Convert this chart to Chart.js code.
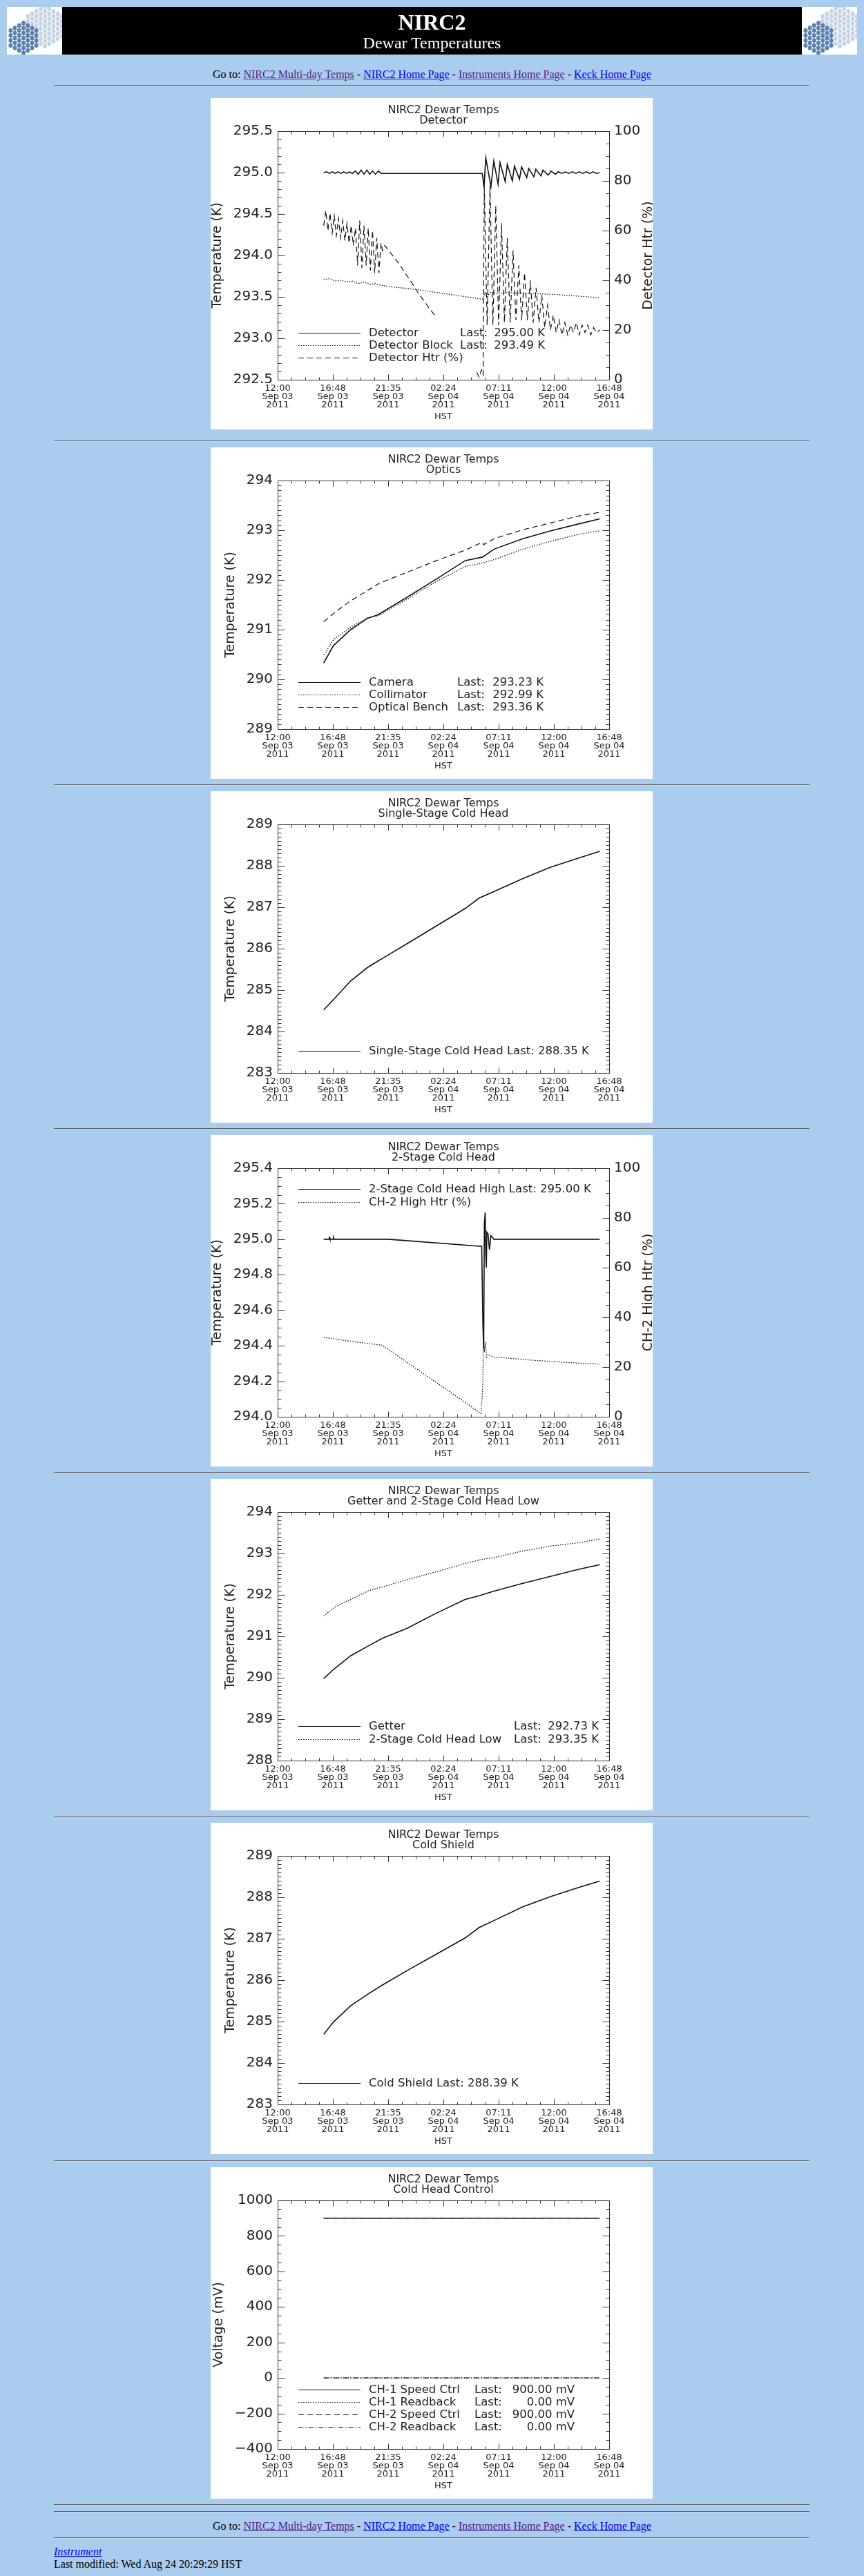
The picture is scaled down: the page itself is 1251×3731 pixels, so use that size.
<!DOCTYPE html>
<html>
<head>
<meta charset="utf-8">
<title>NIRC2 Dewar Temperatures</title>
<script src="https://cdn.jsdelivr.net/npm/chart.js@4.4.1/dist/chart.umd.min.js"></script>
<style>
body { margin: 0; background: #aaccee; font-family: "Liberation Serif", "Times New Roman", serif; font-size: 16px; color: #000; }
#page { position: relative; width: 1251px; height: 3731px; overflow: hidden; }
.hr { position: absolute; left: 78px; width: 1094px; height: 0; border-top: 1px solid #5e5e5e; border-bottom: 1px solid #c9d9eb; }
.line { position: absolute; left: 0; width: 1251px; text-align: center; line-height: 20px; white-space: nowrap; }
a { color: #0000ee; }
a.v { color: #551a8b; }
.plot { position: absolute; left: 305px; background: #fff; }
.logo { position: absolute; top: 10px; }
</style>
</head>
<body>
<div id="page">
  <canvas class="logo" id="logoL" width="80" height="69" style="left:10px"></canvas>
  <div style="position:absolute;left:90px;top:10px;width:1071px;height:69px;background:#000"></div>
  <div class="line" style="top:12px;line-height:40px;color:#fff;font-weight:bold;font-size:32px">NIRC2</div>
  <div class="line" style="top:47px;line-height:30px;color:#fff;font-size:24px">Dewar Temperatures</div>
  <canvas class="logo" id="logoR" width="80" height="69" style="left:1161px"></canvas>

  <div class="line" style="top:98px">Go to: <a class="v" href="#">NIRC2 Multi-day Temps</a> - <a href="#">NIRC2 Home Page</a> - <a class="v" href="#">Instruments Home Page</a> - <a href="#">Keck Home Page</a></div>
  <div class="hr" style="top:123px"></div>

  <canvas class="plot" id="c1" width="640" height="480" style="top:142px"></canvas>
  <div class="hr" style="top:638px"></div>
  <canvas class="plot" id="c2" width="640" height="480" style="top:648px"></canvas>
  <div class="hr" style="top:1136px"></div>
  <canvas class="plot" id="c3" width="640" height="480" style="top:1146px"></canvas>
  <div class="hr" style="top:1634px"></div>
  <canvas class="plot" id="c4" width="640" height="480" style="top:1644px"></canvas>
  <div class="hr" style="top:2132px"></div>
  <canvas class="plot" id="c5" width="640" height="480" style="top:2142px"></canvas>
  <div class="hr" style="top:2630px"></div>
  <canvas class="plot" id="c6" width="640" height="480" style="top:2640px"></canvas>
  <div class="hr" style="top:3129px"></div>
  <canvas class="plot" id="c7" width="640" height="480" style="top:3139px"></canvas>
  <div class="hr" style="top:3627px"></div>
  <div class="hr" style="top:3637px"></div>

  <div class="line" style="top:3649px">Go to: <a class="v" href="#">NIRC2 Multi-day Temps</a> - <a href="#">NIRC2 Home Page</a> - <a class="v" href="#">Instruments Home Page</a> - <a href="#">Keck Home Page</a></div>
  <div class="hr" style="top:3675px"></div>
  <div style="position:absolute;left:78px;top:3686px;line-height:20px"><a href="#"><i>Instrument</i></a></div>
  <div style="position:absolute;left:78px;top:3704px;line-height:20px;white-space:nowrap">Last modified: Wed Aug 24 20:29:29 HST</div>
</div>

<script>
'use strict';

// Time axis: hours after 12:00 HST Sep 03 2011
const xTickHours = [0, 4.8, 9.6, 14.4, 19.2, 24, 28.8];
const xTickLabels = [
  ['12:00', 'Sep 03', '2011'],
  ['16:48', 'Sep 03', '2011'],
  ['21:35', 'Sep 03', '2011'],
  ['02:24', 'Sep 04', '2011'],
  ['07:11', 'Sep 04', '2011'],
  ['12:00', 'Sep 04', '2011'],
  ['16:48', 'Sep 04', '2011']
];

// Detector
const detHours = [4.00, 4.25, 4.50, 4.75, 5.00, 5.25, 5.50, 5.75, 6.00, 6.25, 6.50, 6.75, 7.00, 7.25, 7.50, 7.75, 8.00, 8.25, 8.50, 8.75, 9.00, 9.10,
  17.78, 17.93, 18.08, 18.53, 18.78, 19.15, 19.32, 19.77, 19.95, 20.39, 20.57, 21.01, 21.19, 21.64, 21.81, 22.26, 22.43, 22.88, 23.05,
  23.50, 23.75, 24.12, 24.37, 24.70, 25.00, 25.30, 25.60, 25.90, 26.20, 26.50, 26.80, 27.10, 27.40, 27.70, 27.98];
const detTemp = [295.00, 295.01, 294.99, 295.01, 294.99, 295.01, 294.99, 295.01, 294.99, 295.01, 294.99, 295.02, 294.98, 295.03, 294.98, 295.03, 294.98, 295.02, 294.98, 295.02, 294.99, 294.99,
  294.99, 294.82, 295.18, 294.83, 295.14, 294.86, 295.12, 294.89, 295.10, 294.90, 295.08, 294.92, 295.07, 294.94, 295.05, 294.95, 295.04, 294.96, 295.03,
  294.97, 295.02, 294.98, 295.01, 294.99, 295.01, 294.99, 295.01, 294.99, 295.01, 294.99, 295.01, 294.99, 295.01, 294.99, 295.00];
const blockHours = [4.0, 4.5, 5.0, 5.5, 6.0, 6.5, 7.0, 7.5, 8.0, 8.5, 9.0, 10, 12, 14, 16, 17.8, 18.0, 18.2, 18.5, 19, 20, 22, 24, 26, 27.98];
const blockTemp = [293.71, 293.72, 293.69, 293.70, 293.68, 293.69, 293.66, 293.68, 293.65, 293.66, 293.64, 293.62, 293.59, 293.55, 293.51, 293.47, 293.55, 293.50, 293.56, 293.54, 293.55, 293.54, 293.53, 293.51, 293.49];
const htrHours = [4.00, 4.18, 4.37, 4.55, 4.74, 4.92, 5.10, 5.29, 5.47, 5.66, 5.84, 6.02, 6.21, 6.39, 6.58, 6.76, 6.95, 7.13, 7.32, 7.50, 7.69, 7.87, 8.06, 8.24, 8.43, 8.61, 8.80, 8.98, 9.10,
  9.3, 10.5, 11.5, 12.5, 13.3, 13.8, 14.0,
  17.3, 17.5, 17.7, 17.85,
  17.95, 18.2, 18.45, 18.7, 18.95, 19.2, 19.45, 19.7, 19.95, 20.2, 20.45, 20.7, 20.95, 21.2, 21.45, 21.7, 21.95, 22.2, 22.45, 22.7,
  22.95, 23.2, 23.45, 23.7, 23.95, 24.2, 24.45, 24.7, 24.95, 25.2, 25.45, 25.7, 25.95, 26.2, 26.45, 26.7, 26.95, 27.2, 27.45, 27.7, 27.98];
const htrPct = [62, 68, 60, 67, 59, 66, 58, 65, 57, 64, 56, 63, 55, 62, 54, 61, 46, 64, 45, 62, 46, 61, 44, 60, 43, 57, 43, 55, 52,
  54, 47, 40, 33, 28, 25, null,
  3, 1, 4, 2,
  78, 22, 78, 22, 70, 22, 63, 23, 57, 23, 52, 24, 46, 24, 43, 24, 40, 23, 37, 23,
  34, 21, 30, 20, 26, 19, 24, 18, 23, 18, 22, 19, 23, 18, 22, 19, 22, 18, 21, 19, 20];

// Optics
const optHours = [4.0, 4.85, 6.34, 7.83, 8.7, 9.08, 11.3, 13.8, 16.3, 17.8, 18.8, 21.3, 23.75, 26.2, 27.98];
const cameraTemp = [290.33, 290.68, 291.00, 291.23, 291.30, 291.35, 291.66, 292.02, 292.39, 292.46, 292.62, 292.83, 292.99, 293.13, 293.23];
const collimTemp = [290.49, 290.80, 291.05, 291.24, 291.28, 291.32, 291.62, 291.97, 292.27, 292.34, 292.41, 292.62, 292.78, 292.92, 292.99];
const benchHours = [4.0, 5.1, 6.34, 7.83, 8.8, 11.3, 13.8, 16.3, 17.8, 17.9, 18.8, 21.3, 23.75, 26.2, 27.98];
const benchTemp = [291.16, 291.37, 291.58, 291.79, 291.93, 292.16, 292.39, 292.60, 292.76, 292.71, 292.83, 293.01, 293.15, 293.29, 293.36];

// Single-stage cold head
const singleHours = [4.0, 4.85, 6.34, 7.83, 8.83, 9.08, 11.3, 13.8, 16.3, 17.5, 18.8, 21.3, 23.75, 26.2, 27.98];
const singleTemp = [284.52, 284.77, 285.22, 285.55, 285.72, 285.76, 286.13, 286.55, 286.97, 287.22, 287.38, 287.69, 287.97, 288.19, 288.35];

// 2-stage cold head
const chHighHours = [4.0, 4.45, 4.5, 4.55, 4.8, 4.85, 4.9, 9.6, 17.73, 17.78, 17.83, 17.90, 17.96, 18.03, 18.08, 18.13, 18.18, 18.28, 18.40, 18.53, 18.78, 27.98];
const chHighTemp = [295.00, 295.00, 295.01, 295.00, 295.00, 295.01, 295.00, 295.00, 294.96, 294.74, 294.52, 294.38, 295.09, 295.15, 294.92, 294.84, 295.04, 295.03, 294.94, 295.02, 295.00, 295.00];
const chHtrHours = [4.0, 5.0, 6.0, 7.0, 8.0, 9.08, 10, 12, 14, 16, 17.66, 17.8, 17.9, 17.95, 18.05, 18.15, 18.3, 18.8, 20, 22, 24, 26, 27.98];
const chHtrPct = [31.9, 31.3, 30.6, 30.0, 29.4, 28.8, 25.9, 19.5, 13.1, 6.7, 1.3, 10, 33, 26, 30, 24, 25, 24, 23.6, 22.8, 22.2, 21.6, 21.2];

// Getter and 2-stage low
const getterHours = [4.0, 4.85, 6.34, 7.83, 9.08, 11.3, 13.8, 16.3, 17.5, 18.8, 21.3, 23.75, 26.2, 27.98];
const getterTemp = [289.98, 290.20, 290.53, 290.76, 290.95, 291.20, 291.56, 291.89, 291.98, 292.09, 292.28, 292.45, 292.62, 292.73];
const chLowHours = [4.0, 5.1, 6.34, 7.83, 8.8, 11.3, 13.8, 16.3, 17.8, 18.8, 21.3, 23.75, 26.2, 27.98];
const chLowTemp = [291.49, 291.73, 291.89, 292.09, 292.17, 292.37, 292.56, 292.76, 292.86, 292.90, 293.06, 293.18, 293.26, 293.35];

// Cold shield
const shieldHours = [4.0, 4.85, 6.34, 7.83, 9.08, 11.3, 13.8, 16.3, 17.5, 18.8, 21.3, 23.75, 26.2, 27.98];
const shieldTemp = [284.69, 284.99, 285.38, 285.66, 285.88, 286.24, 286.63, 287.02, 287.27, 287.44, 287.77, 288.02, 288.24, 288.39];

// Cold head control
const ctrlHours = [4.0, 27.98];
const ch1Speed = [900, 900];
const ch1Read = [0, 0];
const ch2Speed = [900, 900];
const ch2Read = [0, 0];

// Legend texts
const detLegend = [['Detector', '295.00 K'], ['Detector Block', '293.49 K'], ['Detector Htr (%)', '']];
const optLegend = [['Camera', '293.23 K'], ['Collimator', '292.99 K'], ['Optical Bench', '293.36 K']];
const singleLegend = [['Single-Stage Cold Head Last: 288.35 K', '']];
const chHighLegend = [['2-Stage Cold Head High Last: 295.00 K', ''], ['CH-2 High Htr (%)', '']];
const getterLegend = [['Getter', '292.73 K'], ['2-Stage Cold Head Low', '293.35 K']];
const shieldLegend = [['Cold Shield Last: 288.39 K', '']];
const ctrlLegend = [['CH-1 Speed Ctrl', '900.00 mV'], ['CH-1 Readback', '0.00 mV'], ['CH-2 Speed Ctrl', '900.00 mV'], ['CH-2 Readback', '0.00 mV']];

const FONT = '"DejaVu Sans", sans-serif';
const INK = '#222';
const lineStyles = {
  solid: { dash: [], width: 1.6 },
  dot: { dash: [1.5, 2], width: 1.3 },
  dash: { dash: [8, 5], width: 1.2 },
  dashdot: { dash: [7, 3, 1.5, 3], width: 1.2 }
};

Chart.defaults.font.family = FONT;
Chart.defaults.color = INK;

// evenly spaced tick values between min and max
function steps(min, max, step) {
  const n = Math.round((max - min) / step);
  const out = [];
  for (let i = 0; i <= n; i++) out.push(min + i * step);
  return out;
}

function isMajor(v, scale) {
  return scale.ticks.some(t => Math.abs(t.value - v) < 1e-6);
}

// IDL style box with inward ticks on all four sides
const idlAxes = {
  id: 'idlAxes',
  afterDraw(chart, args, o) {
    const ctx = chart.ctx;
    const a = chart.chartArea;
    const L = Math.round(a.left) + 0.5, R = Math.round(a.right) + 0.5;
    const T = Math.round(a.top) + 0.5, B = Math.round(a.bottom) + 0.5;
    const xs = chart.scales.x, yl = chart.scales.y, yr = chart.scales.y2;
    ctx.save();
    ctx.strokeStyle = '#333';
    ctx.lineWidth = 1;
    ctx.strokeRect(L, T, R - L, B - T);
    ctx.beginPath();
    steps(xs.min, xs.max, o.xMinor).forEach(v => {
      const px = Math.round(xs.getPixelForValue(v)) + 0.5;
      const len = isMajor(v, xs) ? 8 : 4;
      ctx.moveTo(px, B); ctx.lineTo(px, B - len);
      ctx.moveTo(px, T); ctx.lineTo(px, T + len);
    });
    steps(yl.min, yl.max, o.yMinor).forEach(v => {
      const py = Math.round(yl.getPixelForValue(v)) + 0.5;
      const len = isMajor(v, yl) ? 10 : 5;
      ctx.moveTo(L, py); ctx.lineTo(L + len, py);
      if (!yr) { ctx.moveTo(R, py); ctx.lineTo(R - len, py); }
    });
    if (yr) {
      steps(yr.min, yr.max, o.y2Minor).forEach(v => {
        const py = Math.round(yr.getPixelForValue(v)) + 0.5;
        const len = isMajor(v, yr) ? 10 : 5;
        ctx.moveTo(R, py); ctx.lineTo(R - len, py);
      });
    }
    ctx.stroke();
    if (o.rightTitle) {
      ctx.translate(634, (a.top + a.bottom) / 2);
      ctx.rotate(-Math.PI / 2);
      ctx.font = '19px ' + FONT;
      ctx.fillStyle = INK;
      ctx.textAlign = 'center';
      ctx.textBaseline = 'middle';
      ctx.fillText(o.rightTitle, 0, 0);
    }
    ctx.restore();
  }
};

// legend drawn inside the plot, line sample + name + "Last:" + value
const idlLegend = {
  id: 'idlLegend',
  afterDraw(chart, args, o) {
    if (!o.rows) return;
    const ctx = chart.ctx;
    ctx.save();
    ctx.font = '16.5px ' + FONT;
    ctx.fillStyle = INK;
    ctx.textBaseline = 'middle';
    o.rows.forEach((row, i) => {
      const ds = chart.data.datasets[i];
      const y = Math.round(o.top + i * o.gap) + 0.5;
      ctx.strokeStyle = ds.borderColor;
      ctx.lineWidth = 1.2;
      ctx.setLineDash(ds.borderDash || []);
      ctx.beginPath();
      ctx.moveTo(127, y);
      ctx.lineTo(217, y);
      ctx.stroke();
      ctx.setLineDash([]);
      ctx.textAlign = 'left';
      ctx.fillText(row[0], 229, y);
      if (row[1]) {
        ctx.fillText('Last:', o.lastX, y);
        ctx.textAlign = 'right';
        ctx.fillText(row[1], o.valueRight, y);
      }
    });
    ctx.restore();
  }
};

function makeChart(id, spec) {
  const datasets = spec.series.map(s => ({
    data: s.hours.map((h, i) => ({ x: h, y: s.values[i] })),
    borderColor: '#111',
    borderWidth: lineStyles[s.style].width,
    borderDash: lineStyles[s.style].dash,
    pointRadius: 0,
    fill: false,
    tension: 0,
    spanGaps: false,
    yAxisID: s.axis || 'y'
  }));

  const scales = {
    x: {
      type: 'linear', min: 0, max: 28.8,
      afterBuildTicks: s => { s.ticks = xTickHours.map(v => ({ value: v })); },
      afterFit: s => { s.height = 72; },
      grid: { display: false, drawTicks: false },
      border: { display: false },
      ticks: {
        autoSkip: false, maxRotation: 0, minRotation: 0, padding: 7, color: INK,
        font: { size: 13, lineHeight: 0.92 },
        callback: (v, i) => xTickLabels[i]
      },
      title: { display: true, text: 'HST', color: INK, font: { size: 13, lineHeight: 1 }, padding: { top: 0, bottom: 11.5 } }
    },
    y: {
      type: 'linear', position: 'left', min: spec.yMin, max: spec.yMax,
      afterBuildTicks: s => { s.ticks = steps(spec.yMin, spec.yMax, spec.yStep).map(v => ({ value: v })); },
      afterFit: s => { s.width = 97; },
      grid: { display: false, drawTicks: false },
      border: { display: false },
      ticks: { padding: 7, color: INK, font: { size: 20 }, callback: spec.yFmt },
      title: { display: true, text: spec.yTitle, color: INK, font: { size: 19, lineHeight: 1 }, padding: { top: spec.yTitlePad, bottom: 0 } }
    }
  };
  if (spec.y2) {
    scales.y2 = {
      type: 'linear', position: 'right', min: spec.y2.min, max: spec.y2.max,
      afterBuildTicks: s => { s.ticks = steps(spec.y2.min, spec.y2.max, spec.y2.step).map(v => ({ value: v })); },
      afterFit: s => { s.width = 63; },
      grid: { display: false, drawTicks: false },
      border: { display: false },
      ticks: { padding: 7, color: INK, font: { size: 20 }, callback: v => String(Math.round(v)) }
    };
  }

  return new Chart(document.getElementById(id), {
    type: 'line',
    data: { datasets },
    options: {
      responsive: false,
      animation: false,
      events: [],
      layout: { padding: { left: 0, top: 0, bottom: 0, right: spec.y2 ? 0 : 63 } },
      scales,
      plugins: {
        legend: { display: false },
        tooltip: { enabled: false },
        title: {
          display: true, fullSize: false, color: INK,
          text: ['NIRC2 Dewar Temps', spec.sub],
          font: { size: 16, weight: 'normal', lineHeight: 0.9375 },
          padding: { top: 10.5, bottom: 7.5 }
        },
        idlAxes: { xMinor: 1.2, yMinor: spec.yMinor, y2Minor: spec.y2 ? spec.y2.minor : 0, rightTitle: spec.y2 ? spec.y2.title : '' },
        idlLegend: spec.legend
      }
    },
    plugins: [idlAxes, idlLegend]
  });
}

const fmt1 = v => v.toFixed(1);
const fmt0 = v => String(Math.round(v));

makeChart('c1', {
  sub: 'Detector', yTitle: 'Temperature (K)', yTitlePad: 1,
  yMin: 292.5, yMax: 295.5, yStep: 0.5, yMinor: 0.1, yFmt: fmt1,
  y2: { min: 0, max: 100, step: 20, minor: 5, title: 'Detector Htr (%)' },
  series: [
    { hours: detHours, values: detTemp, style: 'solid' },
    { hours: blockHours, values: blockTemp, style: 'dot' },
    { hours: htrHours, values: htrPct, style: 'dash', axis: 'y2' }
  ],
  legend: { rows: detLegend, top: 340, gap: 18, lastX: 361, valueRight: 484 }
});

makeChart('c2', {
  sub: 'Optics', yTitle: 'Temperature (K)', yTitlePad: 19.5,
  yMin: 289, yMax: 294, yStep: 1, yMinor: 0.1, yFmt: fmt0,
  series: [
    { hours: optHours, values: cameraTemp, style: 'solid' },
    { hours: optHours, values: collimTemp, style: 'dot' },
    { hours: benchHours, values: benchTemp, style: 'dash' }
  ],
  legend: { rows: optLegend, top: 340, gap: 18, lastX: 357, valueRight: 482 }
});

makeChart('c3', {
  sub: 'Single-Stage Cold Head', yTitle: 'Temperature (K)', yTitlePad: 19.5,
  yMin: 283, yMax: 289, yStep: 1, yMinor: 0.1, yFmt: fmt0,
  series: [
    { hours: singleHours, values: singleTemp, style: 'solid' }
  ],
  legend: { rows: singleLegend, top: 376, gap: 18 }
});

makeChart('c4', {
  sub: '2-Stage Cold Head', yTitle: 'Temperature (K)', yTitlePad: 1,
  yMin: 294.0, yMax: 295.4, yStep: 0.2, yMinor: 0.05, yFmt: fmt1,
  y2: { min: 0, max: 100, step: 20, minor: 5, title: 'CH-2 High Htr (%)' },
  series: [
    { hours: chHighHours, values: chHighTemp, style: 'solid' },
    { hours: chHtrHours, values: chHtrPct, style: 'dot', axis: 'y2' }
  ],
  legend: { rows: chHighLegend, top: 78, gap: 18.5 }
});

makeChart('c5', {
  sub: 'Getter and 2-Stage Cold Head Low', yTitle: 'Temperature (K)', yTitlePad: 19.5,
  yMin: 288, yMax: 294, yStep: 1, yMinor: 0.1, yFmt: fmt0,
  series: [
    { hours: getterHours, values: getterTemp, style: 'solid' },
    { hours: chLowHours, values: chLowTemp, style: 'dot' }
  ],
  legend: { rows: getterLegend, top: 358, gap: 18.7, lastX: 439, valueRight: 562 }
});

makeChart('c6', {
  sub: 'Cold Shield', yTitle: 'Temperature (K)', yTitlePad: 19.5,
  yMin: 283, yMax: 289, yStep: 1, yMinor: 0.1, yFmt: fmt0,
  series: [
    { hours: shieldHours, values: shieldTemp, style: 'solid' }
  ],
  legend: { rows: shieldLegend, top: 377, gap: 18 }
});

makeChart('c7', {
  sub: 'Cold Head Control', yTitle: 'Voltage (mV)', yTitlePad: 3,
  yMin: -400, yMax: 1000, yStep: 200, yMinor: 50,
  yFmt: v => (v < 0 ? '\u2212' + Math.abs(v) : String(v)),
  series: [
    { hours: ctrlHours, values: ch1Speed, style: 'solid' },
    { hours: ctrlHours, values: ch1Read, style: 'dot' },
    { hours: ctrlHours, values: ch2Speed, style: 'dash' },
    { hours: ctrlHours, values: ch2Read, style: 'dashdot' }
  ],
  legend: { rows: ctrlLegend, top: 322, gap: 18, lastX: 382, valueRight: 527 }
});

// Keck hexagon logos in the banner corners
function drawLogo(id) {
  const cv = document.getElementById(id);
  const ctx = cv.getContext('2d');
  ctx.fillStyle = '#fff';
  ctx.fillRect(0, 0, cv.width, cv.height);
  const groups = [
    { cx: 55, cy: 28, r: 30, color: '#c7d4e5' },
    { cx: 24, cy: 45, r: 27, color: '#5b81ad' }
  ];
  groups.forEach(g => {
    for (let col = -8; col <= 8; col++) {
      for (let row = -8; row <= 8; row++) {
        const x = g.cx + col * 6.2;
        const y = g.cy + row * 7.2 + (col % 2 ? 3.6 : 0);
        const dx = Math.abs(x - g.cx), dy = Math.abs(y - g.cy);
        if (dx > g.r * 0.87 || dy + dx * 0.58 > g.r) continue;
        ctx.beginPath();
        for (let k = 0; k < 6; k++) {
          const ang = Math.PI / 6 + k * Math.PI / 3;
          const px = x + 3.3 * Math.cos(ang), py = y + 3.8 * Math.sin(ang);
          if (k === 0) ctx.moveTo(px, py); else ctx.lineTo(px, py);
        }
        ctx.closePath();
        ctx.fillStyle = g.color;
        ctx.fill();
      }
    }
  });
}
drawLogo('logoL');
drawLogo('logoR');
</script>
</body>
</html>
